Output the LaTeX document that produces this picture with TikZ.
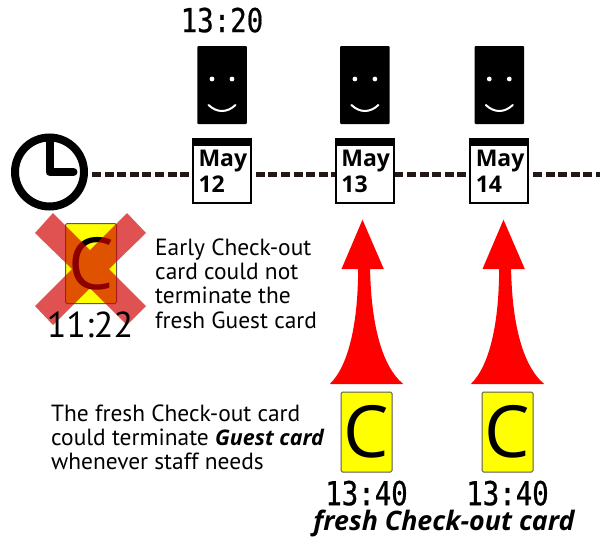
\documentclass[tikz,border=0pt]{standalone}
\usepackage{fontspec}
\setmainfont{PT Sans}
\newfontfamily\calfont{Open Sans}
\newfontfamily\clockfont[FakeStretch=0.83,FakeBold=0.6]{DejaVu Sans Mono}
\usetikzlibrary{positioning}

\definecolor{linebrown}{RGB}{35,24,21}
\definecolor{crossred}{RGB}{209,0,0}
\definecolor{cardyellow}{RGB}{255,255,0}
\definecolor{arrowred}{RGB}{255,0,0}

\tikzset{
  phone/.style={fill=black, rounded corners=1pt, inner sep=0pt, minimum width=49.5pt, minimum height=78pt,
    path picture={
      \fill[white] ([xshift=-10pt,yshift=6pt]path picture bounding box.center) circle (2.4pt);
      \fill[white] ([xshift=10pt,yshift=6pt]path picture bounding box.center) circle (2.4pt);
      \draw[white, line width=2pt, line cap=round] ([xshift=-13.5pt,yshift=-20pt]path picture bounding box.center)
        .. controls ([xshift=-5pt,yshift=-28pt]path picture bounding box.center) and ([xshift=5pt,yshift=-28pt]path picture bounding box.center)
        .. ([xshift=13.5pt,yshift=-20pt]path picture bounding box.center);
    }},
  calendar/.style={draw=black, line width=2pt, fill=white, inner sep=0pt, minimum width=58pt, minimum height=64pt,
    text width=47pt, align=left, font=\calfont\bfseries\fontsize{23}{26}\selectfont,
    path picture={
      \fill[black] (path picture bounding box.north west) rectangle ([yshift=-7pt]path picture bounding box.north east);
    }},
  card/.style={draw=black!65, fill=cardyellow, rounded corners=1.5pt, line width=1pt, inner sep=0pt,
    minimum width=51pt, minimum height=80pt, font=\calfont\fontsize{72}{72}\selectfont},
  cardtime/.style={inner sep=0pt, font=\clockfont\fontsize{33}{33}\selectfont},
  note/.style={inner sep=0pt, align=left, anchor=north west, font=\fontsize{23.4}{24.3}\selectfont},
  timeline/.style={draw=linebrown, line width=5pt, dash pattern=on 9pt off 3.6pt},
  redarrow/.pic={
    \fill[arrowred] (-36.7,0) .. controls (-17,-19) and (-8.4,-64) .. (-8.4,-115) -- (-25,-115) -- (-4,-164.3)
      -- (17.3,-115) -- (3.6,-115) .. controls (4.5,-64) and (14,-19) .. (36.7,0) -- cycle;
  }
}

\begin{document}
\begin{tikzpicture}[x=1pt, y=-1pt]
\useasboundingbox (0,0) rectangle (600,536);

%Declare line ends.
\coordinate (linestart) at (92,174);
\coordinate (lineend) at (600,174);

%Setup timeline.
\draw[timeline] (linestart) -- (lineend);

%Declare clock.
\node[circle, draw=black, line width=8pt, inner sep=0pt, minimum size=69pt,
  path picture={\draw[black, line width=8pt, line cap=round, line join=round]
    ([yshift=30pt]path picture bounding box.center) -- (path picture bounding box.center) -- ([xshift=24pt]path picture bounding box.center);}]
  (clock) at (49.5,172) {};

%Declare phones.
\node[phone] (phone12) at (222,85) {};
\node[phone, right=93pt of phone12] (phone13) {};
\node[phone, right=84.5pt of phone13] (phone14) {};
\node[cardtime, above=13pt of phone12] (time12) {13:20};

%Declare calendars.
\node[calendar, below=14pt of phone12] (may12) {May\\12};
\node[calendar, below=14pt of phone13] (may13) {May\\13};
\node[calendar, below=14pt of phone14] (may14) {May\\14};

%Declare old card.
\node[card] (oldcard) at (91,263.5) {C};
\fill[crossred, opacity=0.68] (35,233) -- (53,213) -- (90,250) -- (127,213) -- (146,233) -- (109,269)
  -- (146,306) -- (127,325) -- (90,288) -- (53,325) -- (35,306) -- (72,269) -- cycle;
\node[inner sep=0pt, font=\fontsize{36}{36}\selectfont] (oldtime) at (90,325) {11:22};

%Declare fresh cards.
\node[card] (card13) at (366.5,432) {C};
\node[card, right=89pt of card13] (card14) {C};
\node[cardtime, below=8pt of card13] (time13) {13:40};
\node[cardtime, below=8pt of card14] (time14) {13:40};

%Setup arrows.
\pic at ([yshift=7.5pt]card13.north) {redarrow};
\pic at ([yshift=7.5pt]card14.north) {redarrow};

%Declare notes.
\node[note] (earlynote) at (155,238.5) {Early Check-out\\card could not\\terminate the\\fresh Guest card};
\node[note] (freshnote) at (51,404.5) {The fresh Check-out card\\could terminate {\calfont\bfseries\itshape\fontsize{21.5}{24.3}\selectfont Guest card}\\whenever staff needs};
\node[inner sep=0pt, font=\calfont\bfseries\itshape\fontsize{26.8}{26}\selectfont] (freshlabel) at (444,523.5) {fresh Check-out card};

\end{tikzpicture}
\end{document}
